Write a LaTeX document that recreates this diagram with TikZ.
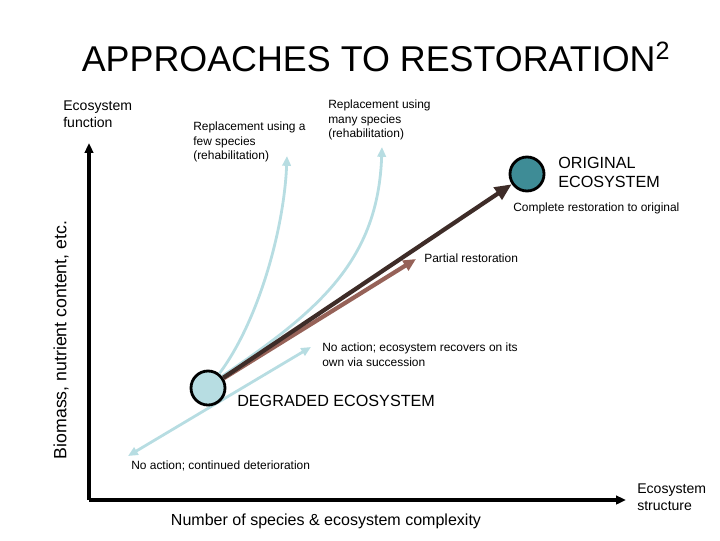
\documentclass[tikz,border=0pt]{standalone}
\usepackage{fontspec}
\setmainfont{Liberation Sans}
\usetikzlibrary{arrows.meta, positioning, backgrounds}
\definecolor{paleblue}{RGB}{183,221,226}
\definecolor{tealfill}{RGB}{62,140,150}
\definecolor{darkbrown}{RGB}{62,44,40}
\definecolor{rosebrown}{RGB}{150,98,88}
\tikzset{
  axisline/.style={line width=2.4pt, -{Triangle[length=7pt, width=6pt]}},
  palearrow/.style={draw=paleblue, line width=2pt, -{Triangle[length=7pt, width=6pt]}},
  eco/.style={circle, draw=black, line width=2pt, minimum size=0.85cm, inner sep=0pt},
  lbl/.style={inner sep=0pt, align=left, font=\fontsize{8.5}{10.2}\selectfont}
}

\begin{document}
\begin{tikzpicture}[x=0.025cm, y=-0.025cm]
  \useasboundingbox (0,0) rectangle (720,540);
  % title and axes
  \node[font=\fontsize{25.5}{30}\selectfont] (title) at (376,57) {APPROACHES TO RESTORATION\textsuperscript{2}};
  \coordinate (origin) at (89,500);
  \coordinate (ytop) at (89,143);
  \coordinate (xend) at (626,500);
  \draw[axisline] (origin) -- (ytop);
  \draw[axisline] (origin) -- (xend);
  \node[lbl, anchor=north west, font=\fontsize{10}{12}\selectfont] (yname) at (63,101) {Ecosystem\\function};
  \node[lbl, anchor=north west, font=\fontsize{10}{12}\selectfont] (xname) at (637,484) {Ecosystem\\structure};
  \node[rotate=90, font=\fontsize{12.6}{14}\selectfont] (ylabel) at (61,340) {Biomass, nutrient content, etc.};
  \node[font=\fontsize{11.4}{13}\selectfont] (xlabel) at (326,521) {Number of species \& ecosystem complexity};

  % ecosystems
  \node[eco, fill=paleblue] (degraded) at (208,388) {};
  \node[eco, fill=tealfill] (original) at (527,174) {};
  \node[lbl, anchor=north west, font=\fontsize{11.5}{13.5}\selectfont] (origtext) at (558,157) {ORIGINAL\\ECOSYSTEM};
  \node[lbl, anchor=west, font=\fontsize{11.5}{13.5}\selectfont] (degtext) at (237,401) {DEGRADED ECOSYSTEM};

  % pathways
  \coordinate (deter) at (128,456);
  \coordinate (succ) at (311,347);
  \coordinate (fewend) at (287,156);
  \coordinate (manyend) at (382,147);
  \coordinate (partend) at (416,259);
  \begin{scope}[on background layer]
    \draw[palearrow, {Triangle[length=7pt, width=6pt]}-{Triangle[length=7pt, width=6pt]}] (deter) -- (succ);
  \end{scope}
  \draw[palearrow] (degraded.52) .. controls (258,322) and (284,230) .. (fewend);
  \draw[palearrow] (degraded.40) .. controls (320,310) and (378,260) .. (manyend);
  \draw[draw=rosebrown, line width=3pt, -{Triangle[length=9pt, width=8pt]}] (degraded) -- (partend);
  \draw[draw=darkbrown, line width=3pt, -{Triangle[length=12pt, width=10pt]}] (degraded) -- (original);

  % pathway labels
  \node[lbl, anchor=north west] (fewtext) at (193,122) {Replacement using a\\few species\\(rehabilitation)};
  \node[lbl, anchor=north west] (manytext) at (328,100) {Replacement using\\many species\\(rehabilitation)};
  \node[lbl, anchor=west] (completetext) at (513,208) {Complete restoration to original};
  \node[lbl, anchor=west] (parttext) at (424,258) {Partial restoration};
  \node[lbl, anchor=north west] (succtext) at (322,343) {No action; ecosystem recovers on its\\own via succession};
  \node[lbl, anchor=west] (detertext) at (131,466) {No action; continued deterioration};
\end{tikzpicture}
\end{document}
